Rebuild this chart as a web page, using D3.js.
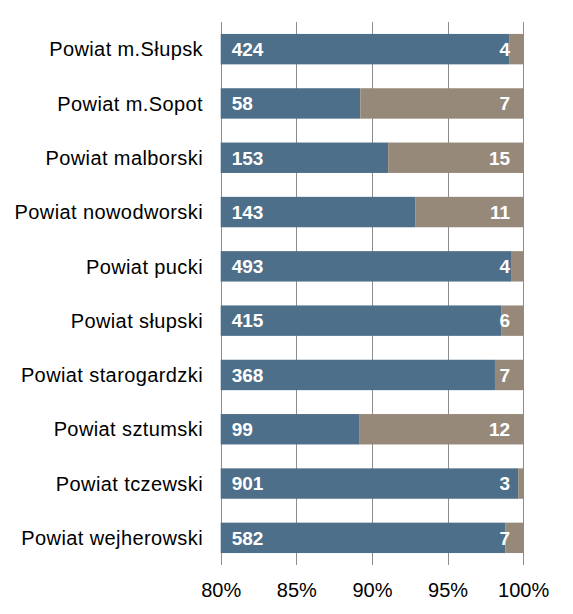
<!DOCTYPE html>
<html><head><meta charset="utf-8">
<script src="https://cdn.jsdelivr.net/npm/d3@7"></script>
<style>body{margin:0;background:#fff;}svg{display:block;font-family:Arial,"Liberation Sans",sans-serif;}</style>
</head><body><div id="chart"></div>
<script>
const categories = ["Powiat m.Słupsk","Powiat m.Sopot","Powiat malborski","Powiat nowodworski","Powiat pucki","Powiat słupski","Powiat starogardzki","Powiat sztumski","Powiat tczewski","Powiat wejherowski"];
const seriesA = [424,58,153,143,493,415,368,99,901,582];
const seriesB = [4,7,15,11,4,6,7,12,3,7];
const tickValues = [0.80,0.85,0.90,0.95,1.00];

const W=573,H=614;
const svg=d3.select("#chart").append("svg").attr("width",W).attr("height",H);
const x=d3.scaleLinear().domain([0.8,1]).range([220.7,523.2]);
const y=d3.scaleBand().domain(categories).range([22,565]).paddingInner(0.44).paddingOuter(0.22);
const data=categories.map((c,i)=>({c,a:seriesA[i],b:seriesB[i],p:seriesA[i]/(seriesA[i]+seriesB[i])}));

// gridlines
svg.append("g").selectAll("line").data(tickValues).join("line")
 .attr("x1",d=>Math.round(x(d))+0.5).attr("x2",d=>Math.round(x(d))+0.5)
 .attr("y1",22).attr("y2",565).attr("stroke","#8c8c8c").attr("stroke-width",1);

const g=svg.append("g").selectAll("g").data(data).join("g");
g.append("rect").attr("x",x(0.8)).attr("y",d=>y(d.c)).attr("height",y.bandwidth())
 .attr("width",d=>x(d.p)-x(0.8)).attr("fill","#4e6f89");
g.append("rect").attr("x",d=>x(d.p)).attr("y",d=>y(d.c)).attr("height",y.bandwidth())
 .attr("width",d=>x(1)-x(d.p)).attr("fill","#978979");
g.append("text").attr("x",x(0.8)+11).attr("y",d=>y(d.c)+y.bandwidth()/2).attr("dy","0.36em")
 .attr("fill","#fff").attr("font-weight","bold").attr("font-size",19).text(d=>d.a);
g.append("text").attr("x",x(1)-13).attr("y",d=>y(d.c)+y.bandwidth()/2).attr("dy","0.36em")
 .attr("text-anchor","end").attr("fill","#fff").attr("font-weight","bold").attr("font-size",19).text(d=>d.b);

// category labels
svg.append("g").selectAll("text").data(categories).join("text")
 .attr("x",203).attr("y",d=>y(d)+y.bandwidth()/2).attr("dy","0.36em")
 .attr("text-anchor","end").attr("font-size",20).attr("letter-spacing",0.4).attr("fill","#000").text(d=>d);

// x axis labels
const ax=d3.axisBottom(x).tickValues(tickValues).tickFormat(d3.format(".0%")).tickSize(0).tickPadding(0);
const axg=svg.append("g").attr("transform","translate(0,583)").call(ax);
axg.select(".domain").remove();
axg.selectAll("text").attr("font-size",20).attr("font-family","Arial, 'Liberation Sans', sans-serif").attr("fill","#000").attr("dy","0.71em");
</script></body></html>
